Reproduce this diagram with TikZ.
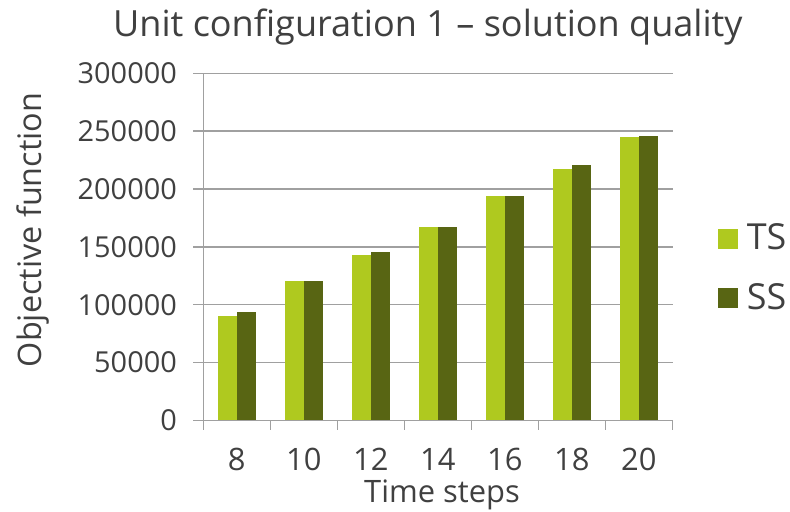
\documentclass[tikz,border=0pt]{standalone}
\usepackage{fontspec}
\setmainfont{Open Sans}
\definecolor{tsgreen}{HTML}{AFC91F}
\definecolor{ssgreen}{HTML}{586513}
\definecolor{gridgray}{HTML}{A0A0A0}
\definecolor{textgray}{HTML}{404040}
\begin{document}
\begin{tikzpicture}[x=1bp,y=1bp,
  lbl/.style={text=textgray,inner sep=0pt,font=\fontsize{29}{32}\selectfont},
  ttl/.style={text=textgray,inner sep=0pt,font=\fontsize{36.2}{40}\selectfont},
  leg/.style={text=textgray,inner sep=0pt,font=\fontsize{36}{40}\selectfont},
  gridline/.style={draw=gridgray,line width=1.5bp}]
\useasboundingbox (0,0) rectangle (790,512);
% grid and y labels
\foreach \v [count=\k from 0] in {0,50000,100000,150000,200000,250000,300000}{
  \draw[gridline] (193.3,91.7+57.83*\k) -- (672.5,91.7+57.83*\k);
  \node[lbl,anchor=base east] (ylab\k) at (177,81.2+57.83*\k) {\v};
}
\draw[gridline] (203.3,91.7) -- (203.3,438.7);
\foreach \i in {0,...,7}
  \draw[gridline] (203.3+67*\i,91.7) -- (203.3+67*\i,82);
% bars
\foreach \ts/\ss/\t [count=\i from 0] in {90.5/94.0/8,120.2/120.2/10,142.7/145.3/12,167.2/167.2/14,194.2/194.2/16,217.3/220.5/18,244.7/245.8/20}{
  \fill[tsgreen] (217.7+67*\i,91.7) rectangle (237+67*\i,91.7+1.1567*\ts);
  \fill[ssgreen] (237+67*\i,91.7) rectangle (256.3+67*\i,91.7+1.1567*\ss);
  \node[lbl,anchor=base,font=\fontsize{31}{34}\selectfont] (xlab\i) at (236.8+67*\i,41.3) {\t};
}
% titles
\node[ttl,anchor=base west] (title) at (113,475) {Unit configuration 1 – solution quality};
\node[lbl,anchor=base,font=\fontsize{31}{34}\selectfont] (xtitle) at (442,9) {Time steps};
\node[lbl,anchor=base,rotate=90,font=\fontsize{32.5}{36}\selectfont] (ytitle) at (41.7,282) {Objective function};
% legend
\fill[tsgreen] (718,263) rectangle (737.7,283);
\fill[ssgreen] (718,204) rectangle (737.7,224);
\node[leg,anchor=base west] (legts) at (746.7,262) {TS};
\node[leg,anchor=base west] (legss) at (746.7,202.7) {SS};
\end{tikzpicture}
\end{document}
